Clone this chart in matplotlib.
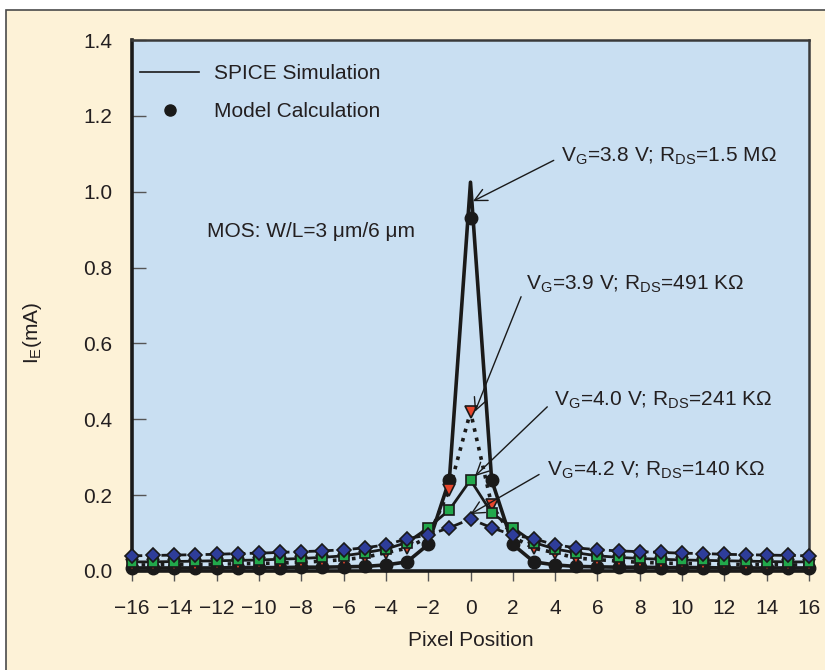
import numpy as np
import matplotlib
matplotlib.use("Agg")
import matplotlib.pyplot as plt
from matplotlib.lines import Line2D
from matplotlib.patches import Rectangle

plt.rcParams['font.family'] = ['Liberation Sans', 'DejaVu Sans']
plt.rcParams['mathtext.fontset'] = 'custom'
plt.rcParams['mathtext.rm'] = 'Liberation Sans'
plt.rcParams['mathtext.it'] = 'Liberation Sans'

# pixel positions
pos = list(range(-16, 17))

# model calculation (mA): 16 left values, centre, 16 right values
model_38 = [0.008, 0.008, 0.008, 0.008, 0.008, 0.009, 0.009, 0.009, 0.010, 0.010, 0.011,
            0.012, 0.016, 0.024, 0.070, 0.240,
            0.930,
            0.240, 0.070, 0.024, 0.016, 0.012, 0.011, 0.010, 0.010, 0.009, 0.009, 0.009,
            0.008, 0.008, 0.008, 0.008, 0.008]
model_39 = [0.016, 0.016, 0.017, 0.017, 0.018, 0.019, 0.020, 0.021, 0.023, 0.026, 0.030,
            0.036, 0.048, 0.060, 0.090, 0.214,
            0.420,
            0.174, 0.090, 0.060, 0.048, 0.034, 0.030, 0.026, 0.023, 0.021, 0.020, 0.019,
            0.018, 0.017, 0.017, 0.016, 0.016]
model_40 = [0.024, 0.024, 0.025, 0.026, 0.027, 0.028, 0.029, 0.031, 0.033, 0.036, 0.040,
            0.048, 0.058, 0.075, 0.114, 0.161,
            0.240,
            0.153, 0.114, 0.075, 0.058, 0.048, 0.040, 0.036, 0.033, 0.031, 0.029, 0.028,
            0.027, 0.026, 0.025, 0.024, 0.024]
model_42 = [0.040, 0.041, 0.042, 0.043, 0.044, 0.046, 0.047, 0.049, 0.051, 0.053, 0.056,
            0.061, 0.069, 0.085, 0.095, 0.114,
            0.137,
            0.114, 0.095, 0.085, 0.069, 0.061, 0.056, 0.053, 0.051, 0.049, 0.047, 0.046,
            0.044, 0.043, 0.042, 0.041, 0.040]

# SPICE simulation (mA); only the 3.8 V peak differs visibly from the model
spice_38 = [0.008, 0.008, 0.008, 0.008, 0.008, 0.009, 0.009, 0.009, 0.010, 0.010, 0.011,
            0.012, 0.016, 0.024, 0.070, 0.240,
            1.025,
            0.240, 0.070, 0.024, 0.016, 0.012, 0.011, 0.010, 0.010, 0.009, 0.009, 0.009,
            0.008, 0.008, 0.008, 0.008, 0.008]
spice_39 = model_39
spice_40 = model_40
spice_42 = model_42

labels = ['V$_\\mathrm{G}$=3.8 V; R$_\\mathrm{DS}$=1.5 M\u03a9',
          'V$_\\mathrm{G}$=3.9 V; R$_\\mathrm{DS}$=491 K\u03a9',
          'V$_\\mathrm{G}$=4.0 V; R$_\\mathrm{DS}$=241 K\u03a9',
          'V$_\\mathrm{G}$=4.2 V; R$_\\mathrm{DS}$=140 K\u03a9']
# arrow tips and text anchors, data units
tips = [(0.12, 0.975), (0.21, 0.42), (0.21, 0.25), (0.0, 0.15)]
text_at = [(4.3, 1.093), (2.62, 0.755), (3.95, 0.45), (3.6, 0.266)]

txt = '#231f20'
fs = 15
fig = plt.figure(figsize=(8.25, 6.7), dpi=100, facecolor='white')
fig.patches.append(Rectangle((6 / 825, -0.1), 1.2, 1.1 - 10 / 670, transform=fig.transFigure,
                             facecolor='#fdf2d7', edgecolor='#4a4a4a', lw=1.2, zorder=-10))
ax = fig.add_axes([132 / 825, 1 - 571 / 670, (809 - 132) / 825, (571 - 40) / 670])
ax.set_facecolor('#c9dff2')

ax.plot(pos, spice_38, '-', color='#1a1a1a', lw=2.6, zorder=3)
ax.plot(pos, spice_39, ':', color='#1a1a1a', lw=2.6, zorder=3)
ax.plot(pos, spice_40, '-', color='#1a1a1a', lw=2.0, zorder=3)
ax.plot(pos, spice_42, '--', color='#1a1a1a', lw=2.0, zorder=3)

ax.plot(pos, model_38, 'o', ms=9, mfc='#1a1a1a', mec='#1a1a1a', zorder=4, clip_on=False)
ax.plot(pos, model_39, 'v', ms=9, mfc='#e8452c', mec='#1a1a1a', mew=1.2, zorder=5, clip_on=False)
ax.plot(pos, model_40, 's', ms=7.5, mfc='#22a84b', mec='#1a1a1a', mew=1.2, zorder=6, clip_on=False)
ax.plot(pos, model_42, 'D', ms=7, mfc='#2e3d9a', mec='#1a1a1a', mew=1.2, zorder=7, clip_on=False)

for lab, tip, at in zip(labels, tips, text_at):
    ax.annotate(lab, xy=tip, xytext=at, fontsize=fs, color=txt, va='center', ha='left',
                arrowprops=dict(arrowstyle='->', color='#1a1a1a', lw=1.0, mutation_scale=22,
                                shrinkA=4, shrinkB=0, relpos=(0, 0.5)), zorder=8)

ax.text(-12.45, 0.895, 'MOS: W/L=3 \u03bcm/6 \u03bcm', fontsize=fs, color=txt, va='center')

handles = [Line2D([], [], color='#1a1a1a', lw=1.2),
           Line2D([], [], ls='none', marker='o', ms=8, color='#1a1a1a')]
ax.legend(handles, ['SPICE Simulation', 'Model Calculation'], loc='upper left',
          bbox_to_anchor=(0.0, 0.970), frameon=False, fontsize=fs, handlelength=2.83,
          handletextpad=0.72, labelspacing=0.91, borderaxespad=0, borderpad=0.4,
          labelcolor=txt)

ax.set_xlim(-16, 16)
ax.set_ylim(0, 1.4)
ax.set_xticks(np.arange(-16, 17, 2))
ax.set_yticks(np.arange(0, 1.41, 0.2))
ax.set_yticklabels(['%.1f' % v for v in np.arange(0, 1.41, 0.2)])
ax.tick_params(axis='x', direction='out', length=7, width=1.0, color='#555555',
               labelsize=fs, labelcolor=txt, pad=13.5)
ax.tick_params(axis='y', direction='in', length=10, width=1.0, color='#555555',
               labelsize=fs, labelcolor=txt, pad=14)
for s in ['left', 'bottom']:
    ax.spines[s].set_linewidth(2.6)
    ax.spines[s].set_color('#1a1a1a')
for s in ['top', 'right']:
    ax.spines[s].set_linewidth(1.8)
    ax.spines[s].set_color('#3a3a3a')

ax.set_xlabel('Pixel Position', fontsize=fs, color=txt)
ax.xaxis.set_label_coords(0.5, -0.113)
ax.set_ylabel('I$_\\mathrm{E}$(mA)', fontsize=fs, color=txt)
ax.yaxis.set_label_coords(-0.13, 0.448)

fig.savefig('out.png', dpi=100, facecolor=fig.get_facecolor())
